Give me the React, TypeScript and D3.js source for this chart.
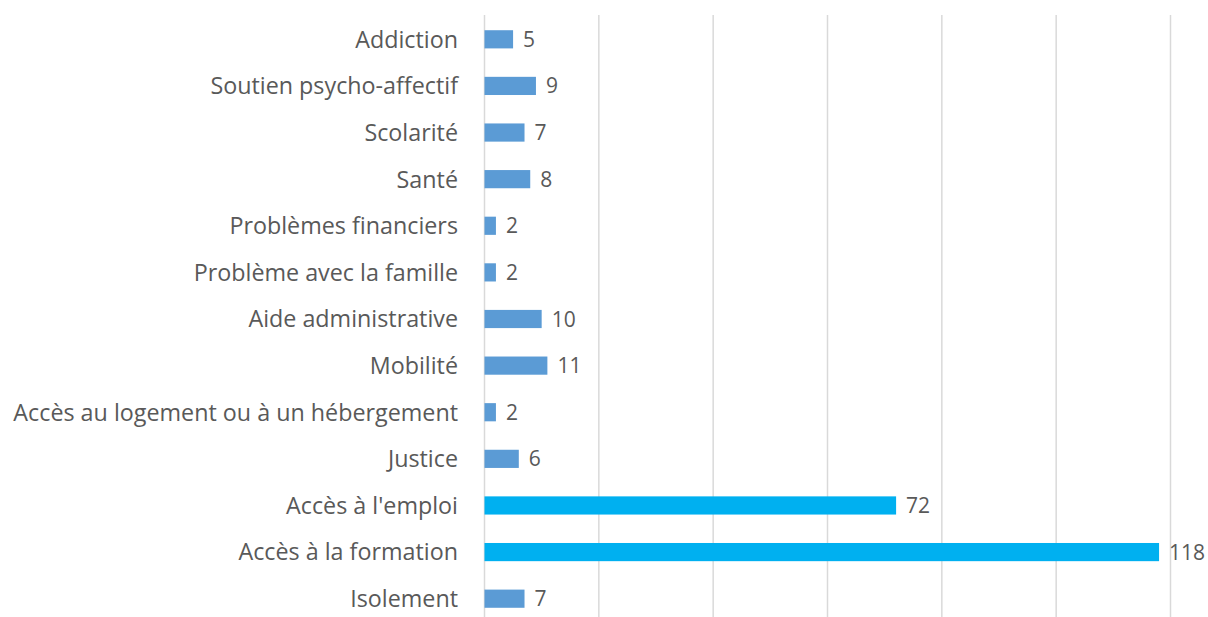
import React from "react";
import * as d3 from "d3";

const categories = [
  "Addiction",
  "Soutien psycho-affectif",
  "Scolarité",
  "Santé",
  "Problèmes financiers",
  "Problème avec la famille",
  "Aide administrative",
  "Mobilité",
  "Accès au logement ou à un hébergement",
  "Justice",
  "Accès à l'emploi",
  "Accès à la formation",
  "Isolement",
];
const values = [5, 9, 7, 8, 2, 2, 10, 11, 2, 6, 72, 118, 7];
const highlighted = ["Accès à l'emploi", "Accès à la formation"];
const xTicks = [0, 20, 40, 60, 80, 100, 120];

const W = 1208;
const H = 617;
const left = 484.5;
const right = 1170.5;
const top = 16;
const bottom = 622;

export default function App() {
  const x = d3.scaleLinear().domain([0, 120]).range([left, right]);
  const y = d3.scaleBand().domain(categories).range([top, bottom]).paddingInner(0.61).paddingOuter(0.305);
  const font = "'Open Sans', sans-serif";
  return (
    <svg width={W} height={H} style={{ position: "absolute", left: 0, top: 0 }}>
      <rect width={W} height={H} fill="#fff" />
      {xTicks.map((t) => (
        <line key={t} x1={x(t)} x2={x(t)} y1={15} y2={H} stroke="#d9d9d9" strokeWidth={1.5} />
      ))}
      {categories.map((c, i) => {
        const yc = (y(c) as number) + y.bandwidth() / 2;
        return (
          <g key={c}>
            <rect
              x={x(0)}
              y={y(c)}
              width={x(values[i]) - x(0)}
              height={y.bandwidth()}
              fill={highlighted.includes(c) ? "#00B0F0" : "#5B9BD5"}
            />
            <text x={x(values[i]) + 10} y={yc} dy="0.36em" fontSize={21} fill="#595959" fontFamily={font}>
              {values[i]}
            </text>
            <text x={458} y={yc} dy="0.36em" textAnchor="end" fontSize={23.3} fill="#595959" fontFamily={font}>
              {c}
            </text>
          </g>
        );
      })}
    </svg>
  );
}
